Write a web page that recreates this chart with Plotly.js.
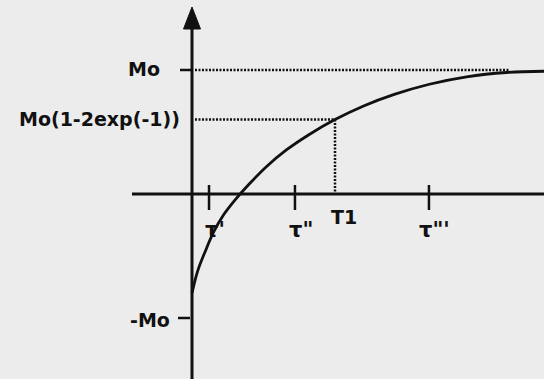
<!DOCTYPE html>
<html>
<head>
<meta charset="utf-8">
<script src="https://cdn.plot.ly/plotly-3.0.1.min.js"></script>
<style>
  html, body { margin: 0; padding: 0; background: #ececec; }
  #chart { width: 544px; height: 379px; }
</style>
</head>
<body>
<div id="chart"></div>
<script>
// Inversion-recovery magnetisation Mz(t), in units of Mo, time in units of T1
const curveT = [0, 0.04, 0.09, 0.15, 0.22, 0.30, 0.40, 0.52, 0.66, 0.82, 1.0, 1.2, 1.42, 1.66, 1.92, 2.2, 2.47];
const curveM = [-0.80, -0.62, -0.47, -0.31, -0.17, -0.05, 0.08, 0.22, 0.355, 0.48, 0.60, 0.71, 0.805, 0.885, 0.945, 0.98, 0.99];

const moLevel = 1;          // Mo
const t1Time = 1;           // T1
const t1Level = 0.6;        // Mo(1-2exp(-1)) as drawn
const moGuideEnd = 2.22;    // where the Mo guide meets the curve

const tickTimes = [0.119, 0.72, 1.657];
const tickLabels = ["τ'", 'τ"', 'τ"\''];
const t1Label = 'T1';

const yLabelValues = [moLevel, t1Level, -moLevel];
const yLabelTexts = ['Mo', 'Mo(1-2exp(-1))', '-Mo'];

// plot scale: 143 px per T1, 124 px per Mo, origin at (192, 194) px
const W = 544, H = 379, PX_T = 143, PX_M = 124, OX = 192, OY = 194;
const xRange = [-OX / PX_T, (W - OX) / PX_T];
const yRange = [-(H - OY) / PX_M, OY / PX_M];
const dt = p => p / PX_T;   // pixel length -> time units
const dm = p => p / PX_M;   // pixel length -> Mo units

const ink = '#111111';
const font = { family: 'DejaVu Sans, sans-serif', size: 19, color: ink, weight: 'bold' };

const traces = [
  { // Mo guide
    x: [dt(3), moGuideEnd], y: [moLevel, moLevel], mode: 'lines',
    line: { color: ink, width: 2.5, dash: '2px,1.5px' }, hoverinfo: 'skip'
  },
  { // T1 guides
    x: [dt(3), t1Time, t1Time], y: [t1Level, t1Level, 0], mode: 'lines',
    line: { color: ink, width: 2.5, dash: '2px,1.5px' }, hoverinfo: 'skip'
  },
  { // recovery curve
    x: curveT, y: curveM, mode: 'lines',
    line: { color: ink, width: 2.8, shape: 'spline', smoothing: 1 }, hoverinfo: 'skip'
  }
];

const shapes = [
  // horizontal (time) axis
  { type: 'line', x0: dt(-60), x1: xRange[1], y0: 0, y1: 0, line: { color: ink, width: 3 } },
  // vertical axis up to the arrow head
  { type: 'line', x0: 0, x1: 0, y0: yRange[0], y1: dm(OY - 28), line: { color: ink, width: 3 } },
  // arrow head
  { type: 'path',
    path: `M ${dt(-8.5)},${dm(OY - 29)} L ${dt(8.5)},${dm(OY - 29)} L 0,${dm(OY - 7)} Z`,
    fillcolor: ink, line: { color: ink, width: 1 } },
  // Mo and -Mo ticks on the vertical axis
  { type: 'line', x0: dt(-12), x1: 0, y0: moLevel, y1: moLevel, line: { color: ink, width: 2.5 } },
  { type: 'line', x0: dt(-14), x1: dt(-2), y0: -moLevel, y1: -moLevel, line: { color: ink, width: 2.5 } }
];
tickTimes.forEach(t => shapes.push({
  type: 'line', x0: t, x1: t, y0: dm(9), y1: dm(-16), line: { color: ink, width: 2.5 }
}));

const annotations = [];
const yShifts = [-30, -10, -20];
yLabelValues.forEach((v, i) => annotations.push({
  x: 0, y: v, text: yLabelTexts[i], showarrow: false,
  xanchor: 'right', yanchor: 'middle', xshift: yShifts[i], yshift: i === 2 ? -2 : 1, font
}));
tickTimes.forEach((t, i) => annotations.push({
  x: t, y: 0, text: tickLabels[i], showarrow: false,
  xanchor: 'center', yanchor: 'middle', xshift: 6, yshift: -36,
  font: Object.assign({}, font, { size: 21 })
}));
annotations.push({
  x: t1Time, y: 0, text: t1Label, showarrow: false,
  xanchor: 'center', yanchor: 'middle', xshift: 9, yshift: -23, font
});

const layout = {
  width: W, height: H,
  margin: { l: 0, r: 0, t: 0, b: 0, pad: 0 },
  paper_bgcolor: '#ececec', plot_bgcolor: '#ececec',
  showlegend: false,
  xaxis: { range: xRange, visible: false, fixedrange: true },
  yaxis: { range: yRange, visible: false, fixedrange: true },
  shapes, annotations
};

Plotly.newPlot('chart', traces, layout, { staticPlot: true, displayModeBar: false });
</script>
</body>
</html>
